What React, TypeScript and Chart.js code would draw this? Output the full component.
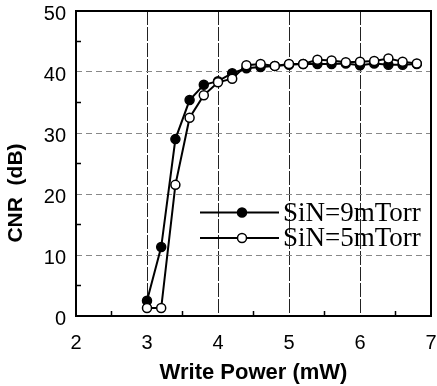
import React, { useEffect, useRef } from "react";
import { Chart, registerables } from "chart.js";

Chart.register(...registerables);

const writePower = [3.0, 3.2, 3.4, 3.6, 3.8, 4.0, 4.2, 4.4, 4.6, 4.8, 5.0, 5.2, 5.4, 5.6, 5.8, 6.0, 6.2, 6.4, 6.6, 6.8];
const cnrSiN9 = [2.5, 11.3, 29.0, 35.4, 37.9, 38.5, 39.8, 40.6, 40.8, 41.0, 41.2, 41.3, 41.3, 41.3, 41.4, 41.1, 41.4, 41.2, 41.2, 41.3];
const cnrSiN5 = [1.3, 1.3, 21.5, 32.5, 36.2, 38.3, 38.9, 41.1, 41.3, 41.0, 41.3, 41.3, 42.0, 41.9, 41.6, 41.7, 41.8, 42.2, 41.7, 41.4];
const seriesLabels = ["SiN=9mTorr", "SiN=5mTorr"];
const xTicks = [2, 3, 4, 5, 6, 7];
const yTicks = [0, 10, 20, 30, 40, 50];
const xTitle = "Write Power (mW)";
const yTitle = "CNR  (dB)";

const SANS = "'Liberation Sans', Arial, sans-serif";
const SERIF = "'Liberation Serif', 'Times New Roman', serif";

const framePlugin = {
  id: "frame",
  beforeDatasetsDraw(chart: any) {
    const { ctx, chartArea, scales } = chart;
    const { left, right, top, bottom } = chartArea;
    ctx.save();
    ctx.strokeStyle = "#000";
    ctx.lineWidth = 1.5;
    ctx.beginPath();
    for (let v = 2.5; v < 7; v += 1) {
      const px = scales.x.getPixelForValue(v);
      ctx.moveTo(px, bottom);
      ctx.lineTo(px, bottom - 5);
    }
    for (let v = 5; v < 50; v += 10) {
      const py = scales.y.getPixelForValue(v);
      ctx.moveTo(left, py);
      ctx.lineTo(left + 5, py);
    }
    ctx.stroke();
    ctx.lineWidth = 2;
    ctx.strokeRect(left, top, right - left, bottom - top);
    ctx.restore();
  },
};

const legendPlugin = {
  id: "customLegend",
  afterDraw(chart: any) {
    const { ctx } = chart;
    const rows = [
      { y: 212.5, fill: "#000" },
      { y: 238, fill: "#fff" },
    ];
    ctx.save();
    rows.forEach((r, i) => {
      ctx.strokeStyle = "#000";
      ctx.lineWidth = 2;
      ctx.beginPath();
      ctx.moveTo(200, r.y);
      ctx.lineTo(279, r.y);
      ctx.stroke();
      ctx.beginPath();
      ctx.arc(242, r.y, 4.5, 0, Math.PI * 2);
      ctx.fillStyle = r.fill;
      ctx.fill();
      ctx.lineWidth = 1.5;
      ctx.stroke();
      ctx.fillStyle = "#000";
      ctx.font = `27px ${SERIF}`;
      ctx.textBaseline = "middle";
      ctx.textAlign = "left";
      ctx.fillText(seriesLabels[i], 283, r.y + 1);
    });
    // y-axis title
    ctx.save();
    ctx.translate(16, 193);
    ctx.rotate(-Math.PI / 2);
    ctx.font = `bold 21px ${SANS}`;
    ctx.textAlign = "center";
    ctx.textBaseline = "middle";
    ctx.fillStyle = "#000";
    ctx.fillText(yTitle, 0, 0);
    ctx.restore();
    ctx.restore();
  },
};

export default function App() {
  const ref = useRef<HTMLCanvasElement>(null);
  useEffect(() => {
    const canvas = ref.current!;
    const chart = new Chart(canvas, {
      type: "line",
      data: {
        datasets: [
          {
            label: seriesLabels[0],
            data: writePower.map((x, i) => ({ x, y: cnrSiN9[i] })),
            borderColor: "#000",
            backgroundColor: "#000",
            pointBackgroundColor: "#000",
            pointBorderColor: "#000",
            borderWidth: 2,
            pointRadius: 4.5,
            pointBorderWidth: 1.5,
            tension: 0,
            order: 2,
          },
          {
            label: seriesLabels[1],
            data: writePower.map((x, i) => ({ x, y: cnrSiN5[i] })),
            borderColor: "#000",
            backgroundColor: "#fff",
            pointBackgroundColor: "#fff",
            pointBorderColor: "#000",
            borderWidth: 2,
            pointRadius: 4.5,
            pointBorderWidth: 1.5,
            tension: 0,
            order: 1,
          },
        ],
      },
      options: {
        responsive: false,
        animation: false,
        layout: { padding: { left: 0, right: 5, top: 11, bottom: 0 } },
        plugins: { legend: { display: false }, tooltip: { enabled: false } },
        scales: {
          x: {
            type: "linear",
            min: 2,
            max: 7,
            afterBuildTicks: (s: any) => {
              s.ticks = xTicks.map((v) => ({ value: v }));
            },
            afterFit: (s: any) => {
              s.height = 70;
              s.paddingLeft = 0;
              s.paddingRight = 0;
            },
            ticks: {
              color: "#000",
              font: { family: SANS, size: 20 },
              padding: 15,
            },
            grid: {
              drawTicks: false,
              color: (c: any) => (c.tick && c.tick.value > 2 && c.tick.value < 7 ? "#222" : "rgba(0,0,0,0)"),
              lineWidth: 1,
            },
            border: { display: false, dash: [14, 2] },
            title: {
              display: true,
              text: xTitle,
              color: "#000",
              font: { family: SANS, size: 22, weight: "bold" },
              padding: { top: 0, bottom: 0 },
            },
          },
          y: {
            type: "linear",
            min: 0,
            max: 50,
            afterBuildTicks: (s: any) => {
              s.ticks = yTicks.map((v) => ({ value: v }));
            },
            afterFit: (s: any) => {
              s.width = 76;
              s.paddingTop = 0;
              s.paddingBottom = 0;
            },
            ticks: {
              color: "#000",
              font: { family: SANS, size: 20 },
              padding: 10,
              labelOffset: 3,
            },
            grid: {
              drawTicks: false,
              color: (c: any) => (c.tick && c.tick.value > 0 && c.tick.value < 50 ? "#888" : "rgba(0,0,0,0)"),
              lineWidth: 1,
            },
            border: { display: false, dash: [6, 4] },
          },
        },
      },
      plugins: [framePlugin, legendPlugin],
    } as any);
    return () => chart.destroy();
  }, []);
  return (
    <div style={{ position: "fixed", left: 0, top: 0, width: 437, height: 386, background: "#fff" }}>
      <canvas ref={ref} width={437} height={386} />
    </div>
  );
}
